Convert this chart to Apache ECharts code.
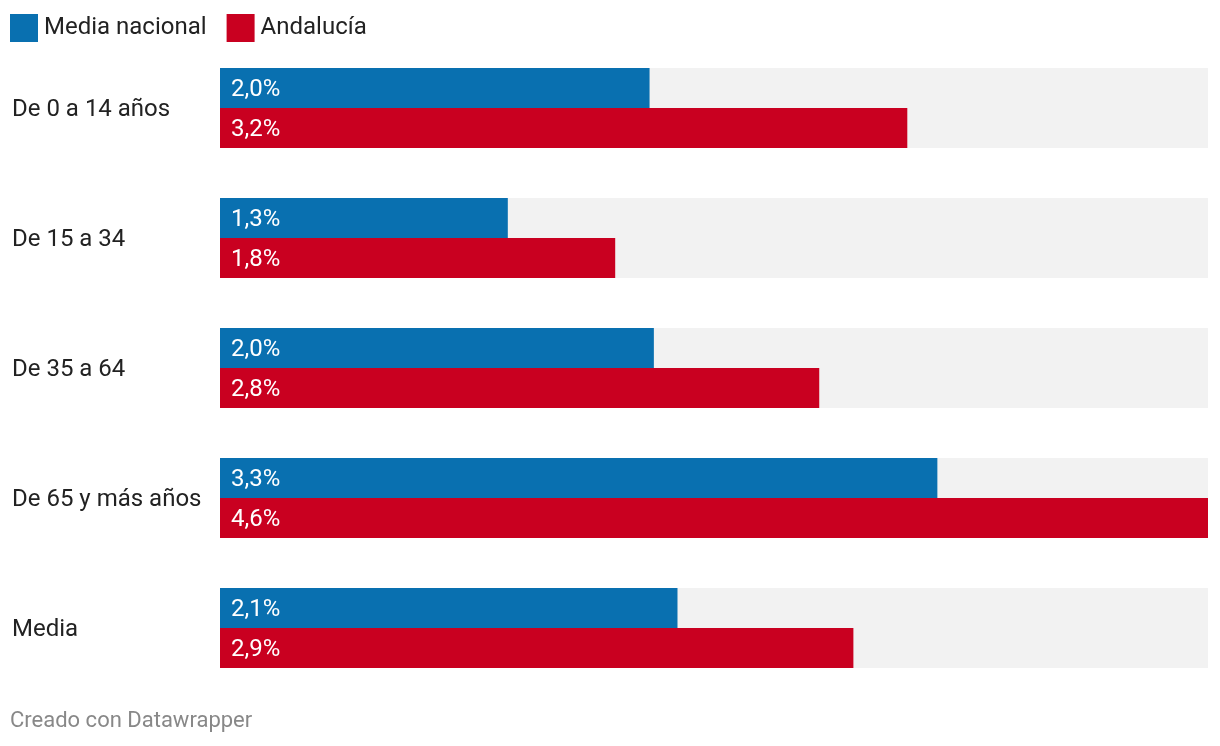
<!DOCTYPE html>
<html>
<head>
<meta charset="utf-8">
<script src="https://cdn.jsdelivr.net/npm/echarts@6/dist/echarts.min.js"></script>
<style>
html,body{margin:0;padding:0;background:#fff;}
#chart{width:1220px;height:746px;}
</style>
</head>
<body>
<div id="chart"></div>
<script>
const categories = ['De 0 a 14 años', 'De 15 a 34', 'De 35 a 64', 'De 65 y más años', 'Media'];
const seriesNames = ['Media nacional', 'Andalucía'];
const mediaNacional = [2.00, 1.34, 2.02, 3.34, 2.13];
const andalucia = [3.20, 1.84, 2.79, 4.60, 2.949];
const axisMax = 4.6;
const colors = ['#0970b0', '#c90020'];

const chart = echarts.init(document.getElementById('chart'), null, {renderer: 'canvas'});

function fmt(v) { return v.toFixed(1).replace('.', ',') + '%'; }

function makeSeries(name, data, color) {
  return {
    name: name,
    type: 'bar',
    data: data,
    barWidth: 40,
    barGap: '0%',
    itemStyle: {color: color},
    showBackground: true,
    backgroundStyle: {color: '#f2f2f2'},
    label: {
      show: true,
      position: 'insideLeft',
      distance: 11,
      offset: [0, 2],
      color: '#fff',
      fontFamily: 'Roboto',
      fontSize: 24,
      formatter: p => fmt(p.value)
    },
    emphasis: {disabled: true},
    animation: false
  };
}

chart.setOption({
  animation: false,
  textStyle: {fontFamily: 'Roboto'},
  color: colors,
  legend: {
    left: 10,
    top: 14,
    padding: 0,
    itemWidth: 28,
    itemHeight: 28,
    itemGap: 20,
    icon: 'rect',
    textStyle: {fontFamily: 'Roboto', fontSize: 24, color: '#222', padding: [2, 0, 0, 1]},
    data: seriesNames
  },
  grid: {left: 220, right: 12, top: 43, bottom: 53, containLabel: false},
  xAxis: {
    type: 'value',
    min: 0,
    max: axisMax,
    show: false
  },
  yAxis: {
    type: 'category',
    inverse: true,
    data: categories,
    axisLine: {show: false},
    axisTick: {show: false},
    axisLabel: {
      align: 'left',
      margin: 208,
      formatter: '{a|{value}}',
      rich: {
        a: {color: '#222', fontFamily: 'Roboto', fontSize: 24, padding: [4, 0, 0, 0]}
      }
    }
  },
  graphic: [{
    type: 'text',
    left: 10,
    top: 710,
    style: {text: 'Creado con Datawrapper', fill: '#888', font: '22px Roboto'}
  }],
  series: [
    makeSeries(seriesNames[0], mediaNacional, colors[0]),
    makeSeries(seriesNames[1], andalucia, colors[1])
  ]
});
</script>
</body>
</html>
